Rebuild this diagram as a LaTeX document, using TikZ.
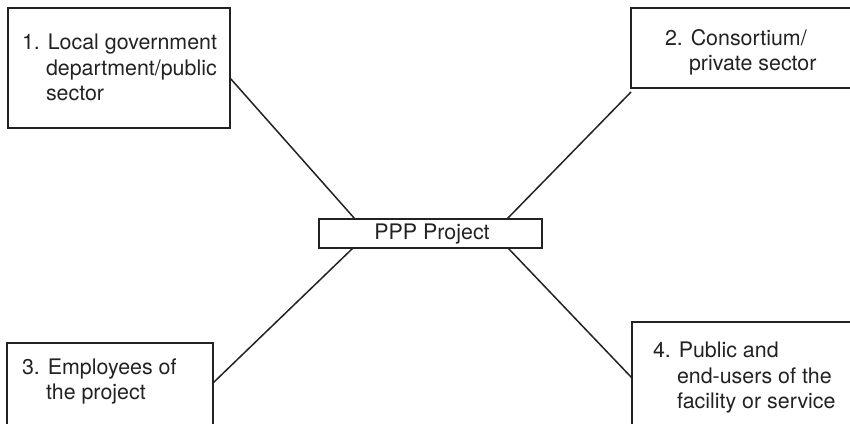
\documentclass[tikz,border=0pt]{standalone}
\usepackage{fontspec}
\setmainfont{TeX Gyre Heros}
\definecolor{ink}{HTML}{222222}
\begin{document}
\begin{tikzpicture}[x=0.5pt,y=-0.5pt,
  box/.style={draw=ink,line width=0.85pt,inner sep=0pt,outer sep=0pt,anchor=north west},
  txt/.style={anchor=base west,inner sep=0pt,outer sep=0pt,text=ink,font=\fontsize{10.7}{12.8}\selectfont},
  link/.style={draw=ink,line width=0.75pt}]
\clip (0,0) rectangle (850,423);
\useasboundingbox (0,0) rectangle (850,423);
% boxes
\node[box,minimum width=111pt,minimum height=60pt] (b1) at (8,8) {};
\node[box,minimum width=120pt,minimum height=40pt] (b2) at (631,8) {};
\node[box,minimum width=103pt,minimum height=50pt] (b3) at (7,343) {};
\node[box,minimum width=120pt,minimum height=60pt] (b4) at (632,322) {};
\node[box,minimum width=111.5pt,minimum height=14.5pt] (c) at (319,219) {};
% texts
\node[txt] (t1a) at (22,49) {1. Local government};
\node[txt] (t1b) at (46,75) {department/public};
\node[txt] (t1c) at (46,100) {sector};
\node[txt] (t2a) at (665,45) {2. Consortium/};
\node[txt] (t2b) at (689,70) {private sector};
\node[txt] (t3a) at (22,374) {3. Employees of};
\node[txt] (t3b) at (46,399) {the project};
\node[txt] (t4a) at (653,357) {4. Public and};
\node[txt] (t4b) at (677,383) {end-users of the};
\node[txt] (t4c) at (677,408) {facility or service};
\node[txt,anchor=base] (tc) at (432,239) {PPP Project};
% connectors
\draw[link] ([yshift=-5pt]b1.east) -- ([xshift=-37.75pt]c.north);
\draw[link] ([yshift=-2pt]b2.south west) -- ([xshift=38.25pt]c.north);
\draw[link] ([xshift=-38.75pt]c.south) -- ([yshift=-20pt]b3.north east);
\draw[link] ([xshift=38.75pt]c.south) -- ([yshift=-28pt]b4.north west);
\end{tikzpicture}
\end{document}
